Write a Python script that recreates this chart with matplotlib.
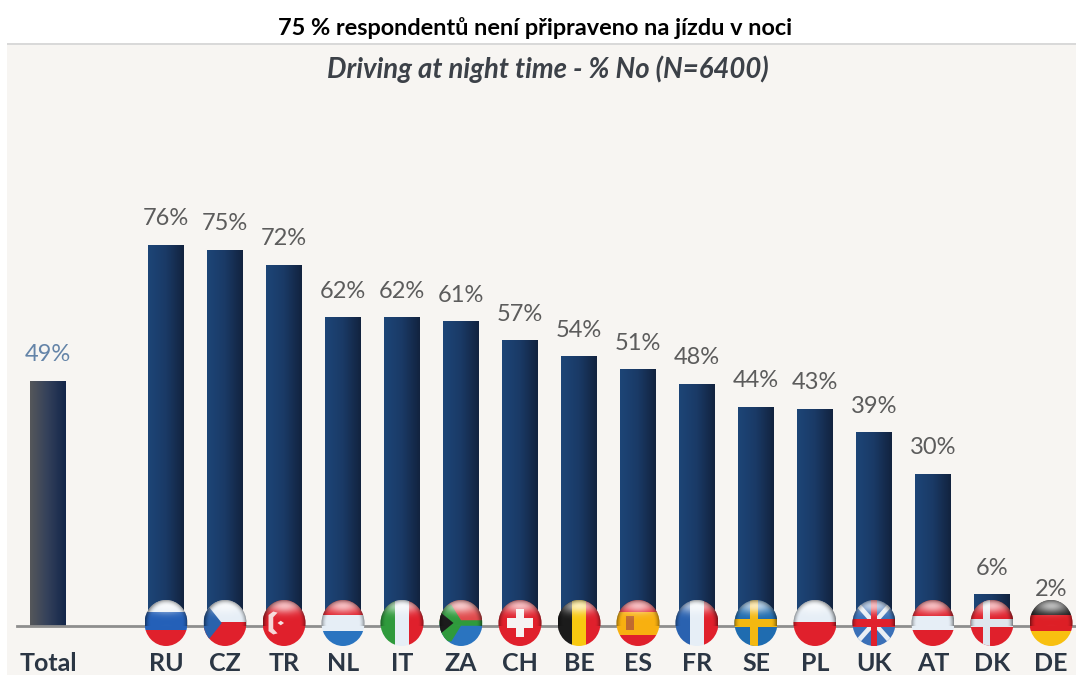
import numpy as np
import matplotlib
matplotlib.use("Agg")
import matplotlib.pyplot as plt
from matplotlib.colors import LinearSegmentedColormap
from matplotlib.patches import Ellipse, Polygon, Rectangle

labels = ["Total", "RU", "CZ", "TR", "NL", "IT", "ZA", "CH", "BE", "ES", "FR", "SE", "PL", "UK", "AT", "DK", "DE"]
# printed percentages, and bar heights (they differ a little)
printed = [49, 76, 75, 72, 62, 62, 61, 57, 54, 51, 48, 44, 43, 39, 30, 6, 2]
heights = [48.9, 76, 75, 72, 61.5, 61.5, 60.7, 56.9, 53.7, 51.1, 48.3, 43.7, 43.3, 38.6, 30.3, 6.2, 2]
slots = [0, 2, 3, 4, 5, 6, 7, 8, 9, 10, 11, 12, 13, 14, 15, 16, 17]

title = "75 % respondentů není připraveno na jízdu v noci"
subtitle = "Driving at night time - % No (N=6400)"

W, H = 1076, 675
RED, BLUE, WHITE = "#e0202c", "#2a74c0", "#e6eef6"

fig = plt.figure(figsize=(W / 100, H / 100), dpi=100, facecolor="white")
fig.patches.append(Rectangle((7 / W, 0), 1 - 7 / W, 1 - 44 / H, transform=fig.transFigure,
                             facecolor="#f7f5f2", edgecolor="none", zorder=-2))
fig.patches.append(Rectangle((7 / W, 1 - 45 / H), 1 - 7 / W, 2 / H, transform=fig.transFigure,
                             facecolor="#d9d9d9", edgecolor="none", zorder=-1))

# axes bottom edge is the baseline of the bars
ax = fig.add_axes([17 / W, 1 - 626 / H, 1 - 17 / W, (626 - 44) / H])
ax.patch.set_alpha(0)
xmin = (17 - 48) / 59
xmax = (1076 - 48) / 59
ymax = 582 / 5.01

bar_cmap = LinearSegmentedColormap.from_list("bar", ["#1d4577", "#1a3a66", "#12233f"])
total_cmap = LinearSegmentedColormap.from_list("total", ["#55575b", "#33405a", "#13264a"])
grad = np.linspace(0, 1, 64).reshape(1, -1)

bar_w = 36 / 59
for i in range(len(heights)):
    cm = total_cmap if i == 0 else bar_cmap
    ax.imshow(grad, cmap=cm, aspect="auto", zorder=2,
              extent=[slots[i] - bar_w / 2, slots[i] + bar_w / 2, 0, heights[i]])
    col = "#6484a8" if i == 0 else "#5c5c5c"
    ax.annotate(str(printed[i]) + "%", (slots[i], heights[i]), xytext=(0, 19), textcoords="offset points",
                ha="center", va="center", fontsize=17, color=col, family="Lato")

rx = 21.5 / 59
ry = 23 / 5.01
cy = 3 / 5.01

yy, xx = np.mgrid[-1:1:96j, -1:1:96j]
rr = np.sqrt(xx ** 2 + yy ** 2)
sheen = np.zeros((96, 96, 4))
top = np.exp(-((xx / 0.8) ** 2 + ((yy + 0.72) / 0.3) ** 2))
low = np.exp(-((xx / 0.35) ** 2 + ((yy - 0.65) / 0.3) ** 2))
edge = np.clip((rr - 0.72) / 0.28, 0, 1) ** 2
light = np.clip(0.7 * top + 0.35 * low, 0, 1)
sheen[..., :3] = (light / (light + 0.45 * edge + 1e-6))[..., None]
sheen[..., 3] = np.clip(light + 0.45 * edge, 0, 1)


def flag(cx, hbands=None, vbands=None, shapes=()):
    clip = Ellipse((cx, cy), 2 * rx, 2 * ry, facecolor="none", edgecolor="none", zorder=3, clip_on=False)
    ax.add_patch(clip)
    items = []
    # bands are (start, end, colour) from top to bottom or left to right, in -1..1
    for a, b, c in hbands or []:
        items.append([(-1, -a), (1, -a), (1, -b), (-1, -b), c])
    for a, b, c in vbands or []:
        items.append([(a, 1), (b, 1), (b, -1), (a, -1), c])
    for s in shapes:
        items.append(list(s))
    for it in items:
        pts = [(cx + u * rx, cy + v * ry) for u, v in it[:-1]]
        p = Polygon(pts, closed=True, facecolor=it[-1], edgecolor="none", zorder=4)
        ax.add_patch(p)
        p.set_clip_box(None)
        p.set_clip_path(clip)
    im = ax.imshow(sheen, aspect="auto", zorder=5, extent=[cx - rx, cx + rx, cy - ry, cy + ry])
    im.set_clip_box(None)
    im.set_clip_path(clip)


def cross(a, b, c):
    # a: half thickness, b: centre of vertical arm, c: colour
    return [[(b - a, 1), (b + a, 1), (b + a, -1), (b - a, -1), c],
            [(-1, a * 1.1), (1, a * 1.1), (1, -a * 1.1), (-1, -a * 1.1), c]]


flag(slots[1], hbands=[(-1, -0.48, WHITE), (-0.48, 0.3, "#2460b8"), (0.3, 1, RED)])
flag(slots[2], hbands=[(-1, -0.05, WHITE), (-0.05, 1, RED)], shapes=[[(-1, 1), (-0.15, 0), (-1, -1), "#2a62ac"]])
flag(slots[3], hbands=[(-1, 1, RED)],
     shapes=[[(-0.72, 0.35), (-0.5, 0.5), (-0.3, 0.45), (-0.5, 0.25), (-0.5, -0.25), (-0.3, -0.45), (-0.5, -0.5),
              (-0.72, -0.35), "#f6d8d8"],
             [(-0.15, 0.1), (0.0, 0.0), (-0.15, -0.1), (-0.3, 0.0), "#f6e0e0"]])
flag(slots[4], hbands=[(-1, -0.35, RED), (-0.35, 0.35, WHITE), (0.35, 1, BLUE)])
flag(slots[5], vbands=[(-1, -0.33, "#2f9a3c"), (-0.33, 0.33, WHITE), (0.33, 1, RED)])
flag(slots[6], hbands=[(-1, -0.1, "#e0484a"), (-0.1, 0.1, "#2f9a3c"), (0.1, 1, BLUE)],
     shapes=[[(-1, 0.8), (-0.45, 0.8), (0.0, 0.12), (1, 0.12), (1, -0.12), (0.0, -0.12), (-0.45, -0.8), (-1, -0.8), "#2f9a3c"],
             [(-1, 0.5), (-0.35, 0), (-1, -0.5), "#1c1c1c"]])
flag(slots[7], hbands=[(-1, 1, RED)],
     shapes=[[(-0.2, 0.6), (0.2, 0.6), (0.2, -0.6), (-0.2, -0.6), "#f6f2f2"],
             [(-0.62, 0.2), (0.62, 0.2), (0.62, -0.2), (-0.62, -0.2), "#f6f2f2"]])
flag(slots[8], vbands=[(-1, -0.33, "#1b1b1b"), (-0.33, 0.33, "#f8c810"), (0.33, 1, RED)])
flag(slots[9], hbands=[(-1, -0.5, RED), (-0.5, 0.5, "#f8b010"), (0.5, 1, RED)],
     shapes=[[(-0.55, 0.3), (-0.2, 0.3), (-0.2, -0.3), (-0.55, -0.3), "#c06a30"]])
flag(slots[10], vbands=[(-1, -0.33, "#2a62b0"), (-0.33, 0.33, WHITE), (0.33, 1, RED)])
flag(slots[11], hbands=[(-1, 1, "#1f6cb0")], shapes=cross(0.17, -0.1, "#f4b810"))
flag(slots[12], hbands=[(-1, -0.05, WHITE), (-0.05, 1, RED)])
flag(slots[13], hbands=[(-1, 1, "#3a70b8")],
     shapes=[[(-1, 0.9), (-0.8, 1), (1, -0.9), (0.8, -1), "#e8eef4"],
             [(1, 0.9), (0.8, 1), (-1, -0.9), (-0.8, -1), "#e8eef4"]] + cross(0.14, 0, RED))
flag(slots[14], hbands=[(-1, -0.32, RED), (-0.32, 0.32, WHITE), (0.32, 1, RED)])
flag(slots[15], hbands=[(-1, 1, RED)], shapes=cross(0.17, -0.25, "#dfe6ee"))
flag(slots[16], hbands=[(-1, -0.36, "#1e1e1e"), (-0.36, 0.34, "#dd1f26"), (0.34, 1, "#f8c010")])

ax.set_xlim(xmin, xmax)
ax.set_ylim(0, ymax)
ax.set_yticks([])
ax.set_xticks(slots, labels)
ax.tick_params(axis="x", length=0, pad=19)
for t in ax.get_xticklabels():
    t.set_fontsize(18)
    t.set_fontweight("bold")
    t.set_color("#2b3644")
    t.set_family("Lato")
for s in ["top", "left", "right"]:
    ax.spines[s].set_visible(False)
ax.spines["bottom"].set_color("#8e8e8e")
ax.spines["bottom"].set_linewidth(2)

fig.text(535 / W, 1 - 28 / H, title, ha="center", va="center", fontsize=16.9, fontweight="bold",
         color="black", family="Lato")
fig.text(548 / W, 1 - 69 / H, subtitle, ha="center", va="center", fontsize=19.8, fontweight="bold",
         fontstyle="italic", color="#3c4148", family="Lato")

fig.savefig("out.png", dpi=100)
